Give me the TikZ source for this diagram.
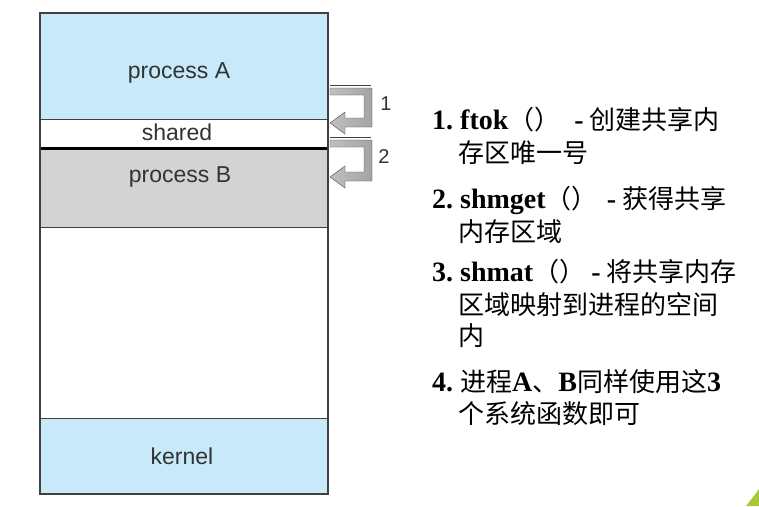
\documentclass[tikz,border=0pt]{standalone}
\usepackage{fontspec}
\setmainfont{Liberation Serif}
\newfontfamily\cjk{Noto Sans CJK SC}
\newfontfamily\lsans{Liberation Sans}
\definecolor{memblue}{HTML}{C7E9F9}
\definecolor{memgray}{HTML}{D3D3D3}
\definecolor{edgec}{HTML}{404040}
\definecolor{labelc}{HTML}{333333}
\definecolor{leafc}{HTML}{A8C83A}
\newcommand\lt[1]{{\rmfamily\bfseries\fontsize{28}{32}\selectfont #1}}
\frenchspacing
\begin{document}
\begin{tikzpicture}[x=1pt,y=-1pt,
  band/.style={rectangle, inner sep=0pt, minimum width=288pt, draw=edgec, line width=0.8pt},
  memlabel/.style={font=\lsans\fontsize{23}{27}\selectfont, text=labelc, inner sep=0pt},
  item/.style={anchor=base west, inner sep=0pt, font=\cjk\fontsize{26}{32}\selectfont\frenchspacing},
  brk/.style={left color=gray!50, right color=gray!72, draw=gray!60!black, line width=0.4pt},
  num/.style={font=\lsans\fontsize{20}{24}\selectfont, text=labelc, inner sep=0pt}]
\useasboundingbox (0,0) rectangle (759,506);
\fill[white] (0,0) rectangle (759,506);
% memory bands
\node[band, fill=memblue, minimum height=106pt] (pA) at (184,66) {};
\node[band, fill=white, minimum height=29pt] (sh) at (184,133.5) {};
\node[band, fill=memgray, minimum height=79pt] (pB) at (184,187.5) {};
\node[band, fill=white, minimum height=191pt] (fr) at (184,322.5) {};
\node[band, fill=memblue, minimum height=76pt] (kn) at (184,456) {};
\draw[line width=3pt, black] (sh.south west) -- (sh.south east);
\draw[edgec, line width=2pt] (pA.north west) rectangle (kn.south east);
\node[memlabel] (tA) at (179,73) {process A};
\node[memlabel] (tS) at (177,132) {shared};
\node[memlabel] (tB) at (180,177) {process B};
\node[memlabel] (tK) at (182,456) {kernel};
% bracket arrows
\draw[edgec, line width=1pt] (330,85) -- (371,85);
\path[brk] (330,88) -- (372,88) -- (372,127) -- (345,127) -- (345,134) -- (330,123) -- (345,112) -- (345,118) -- (364,118) -- (364,95) -- (330,95) -- cycle;
\draw[edgec, line width=1pt] (330,137) -- (371,137);
\path[brk] (330,140) -- (372,140) -- (372,181) -- (345,181) -- (345,188) -- (330,177) -- (345,166) -- (345,172) -- (364,172) -- (364,147) -- (330,147) -- cycle;
\node[num] (n1) at (386,104) {1};
\node[num] (n2) at (384,157) {2};
% text
\node[item] (l1) at (432,129) {\lt{1. ftok}（）\hspace{14pt}\lt{-}\hspace{6pt}创建共享内};
\node[item] (l2) at (458,162) {存区唯一号};
\node[item] (l3) at (432,208) {\lt{2. shmget}（）\hspace{9pt}\lt{-}\hspace{6pt}获得共享};
\node[item] (l4) at (458,241) {内存区域};
\node[item] (l5) at (432,281) {\lt{3. shmat}（）\hspace{6pt}\lt{-}\hspace{6pt}将共享内存};
\node[item] (l6) at (458,314) {区域映射到进程的空间};
\node[item] (l7) at (458,345) {内};
\node[item] (l8) at (432,391) {\lt{4. }进程\lt{A}、\lt{B}同样使用这\lt{3}};
\node[item] (l9) at (458,423) {个系统函数即可};
% corner decoration
\fill[leafc] (759,489) .. controls (754,496) and (750,501) .. (746,506) -- (759,506) -- cycle;
\end{tikzpicture}
\end{document}
